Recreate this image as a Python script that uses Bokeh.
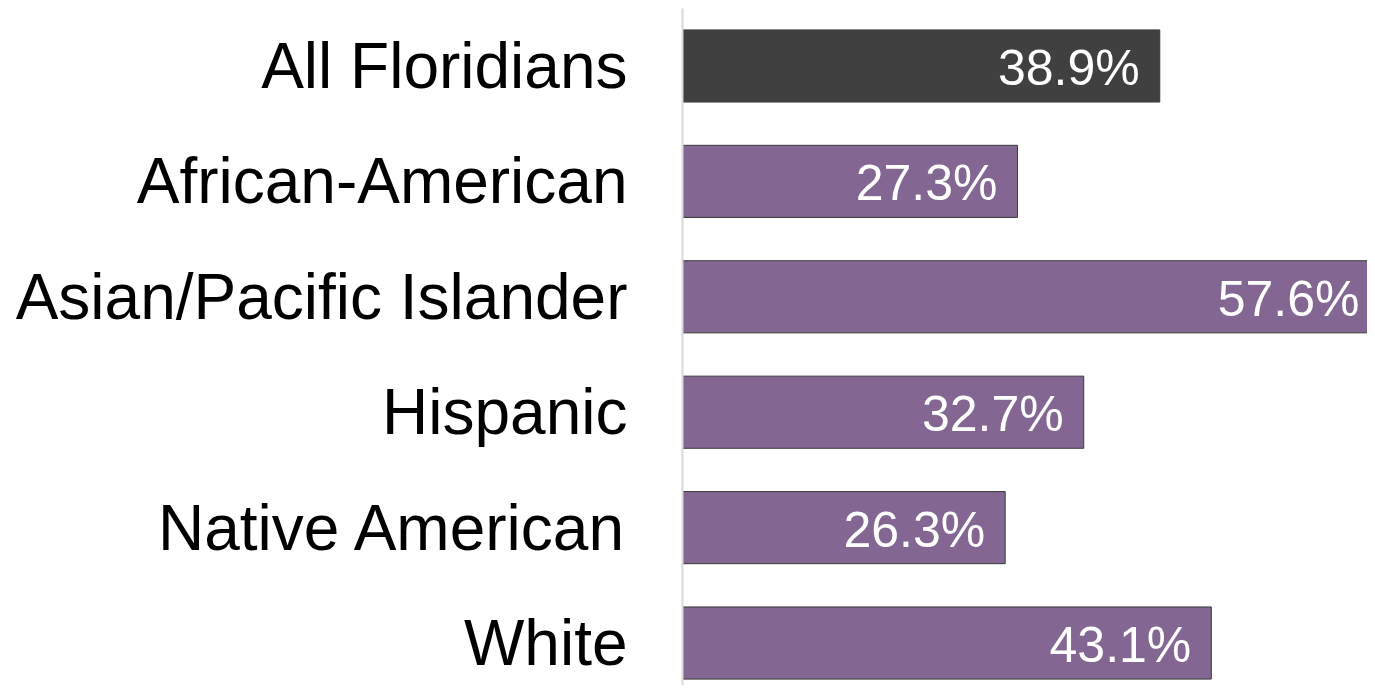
from bokeh.plotting import figure
from bokeh.models import ColumnDataSource, Range1d, FixedTicker
from bokeh.embed import file_html
from bokeh.resources import INLINE
from bokeh.core.properties import value

categories = ["All Floridians", "African-American", "Asian/Pacific Islander",
              "Hispanic", "Native American", "White"]
values = [38.9, 27.3, 57.6, 32.7, 26.3, 43.1]
bar_colors = ["#404040", "#836792", "#836792", "#836792", "#836792", "#836792"]

XMAX = 55.83
pos = list(range(len(categories)))
labels = [f"{v:.1f}%" for v in values]
lab_x = [min(v, XMAX) for v in values]
lab_off = [-20 if v < XMAX else -8 for v in values]

src = ColumnDataSource(dict(y=pos, v=values, c=bar_colors, lab=labels, lx=lab_x, lo=lab_off))

p = figure(width=1367, height=685, output_backend="svg", toolbar_location=None,
           x_range=Range1d(0, XMAX), y_range=Range1d(5.368, -0.498),
           min_border_left=682, min_border_right=0, min_border_top=8, min_border_bottom=0)

p.hbar(y="y", left=0, right="v", height=0.625, fill_color="c",
       line_color="#3a3a3a", line_width=1, source=src)
p.text(x="lx", y="y", text="lab", source=src, text_align="right", text_baseline="middle",
       x_offset="lo", y_offset=2, text_color="white", text_font_size="50px",
       text_font=value("Liberation Sans"))

p.xaxis.visible = False
p.xgrid.visible = False
p.ygrid.visible = False
p.outline_line_color = None

ya = p.yaxis[0]
ya.ticker = FixedTicker(ticks=pos)
ya.major_label_overrides = {i: c for i, c in enumerate(categories)}
ya.major_label_text_font = "Liberation Sans"
ya.major_label_text_font_size = "64px"
ya.major_label_text_color = "black"
ya.major_label_standoff = 55
ya.major_tick_line_color = None
ya.minor_tick_line_color = None
ya.major_tick_out = 0
ya.major_tick_in = 0
ya.axis_line_color = "#d9d9d9"
ya.axis_line_width = 2

open("out.html", "w").write(file_html(p, INLINE))
